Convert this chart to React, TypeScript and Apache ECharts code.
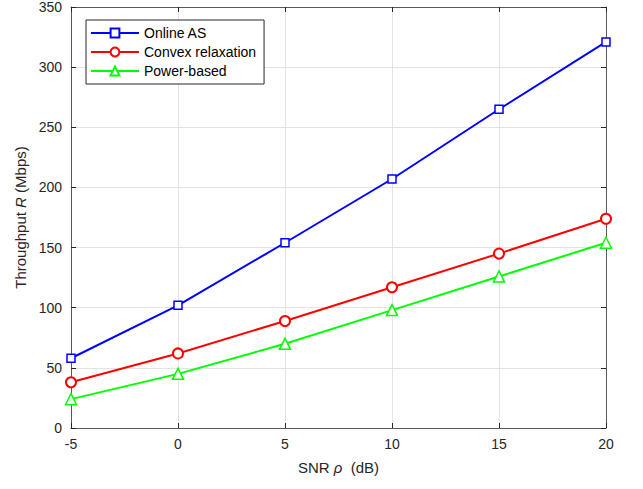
import React, { useEffect, useRef } from "react";
import * as echarts from "echarts";

const snr = [-5, 0, 5, 10, 15, 20];
const onlineAS = [58, 102, 154, 207, 265, 321];
const convexRelax = [38, 62, 89, 117, 145, 174];
const powerBased = [24, 45, 70, 98, 126, 154];
const xTicks = [-5, 0, 5, 10, 15, 20];
const yTicks = [0, 50, 100, 150, 200, 250, 300, 350];

const FONT = "'Liberation Sans', Arial, Helvetica, sans-serif";

export default function App() {
  const ref = useRef<HTMLDivElement>(null);
  useEffect(() => {
    if (!ref.current) return;
    const chart = echarts.init(ref.current, undefined, { renderer: "svg" });
    const pair = (ys: number[]) => snr.map((x, i) => [x, ys[i]]);
    const axisCommon = {
      type: "value" as const,
      axisLine: { show: true, onZero: false, lineStyle: { color: "#5a5a5a", width: 1 } },
      axisTick: { show: true, inside: true, length: 5, lineStyle: { color: "#262626" } },
    };
    const rich = {
      n: { fontFamily: FONT, fontSize: 15, color: "#262626" },
      i: { fontFamily: FONT, fontSize: 15, color: "#262626", fontStyle: "italic" as const },
    };
    chart.setOption({
      animation: false,
      backgroundColor: "#ffffff",
      textStyle: { fontFamily: FONT },
      grid: { left: 71, right: 37, top: 5, bottom: 61, containLabel: false },
      legend: {
        show: true,
        left: 86,
        top: 20,
        orient: "vertical",
        backgroundColor: "#ffffff",
        borderColor: "#262626",
        borderWidth: 1,
        borderRadius: 0,
        padding: [5, 8, 5, 4],
        itemGap: 3,
        itemWidth: 48,
        itemHeight: 11,
        textStyle: { fontFamily: FONT, fontSize: 14, color: "#000", lineHeight: 16 },
        data: ["Online AS", "Convex relaxation", "Power-based"],
      },
      xAxis: [
        {
          ...axisCommon,
          min: xTicks[0],
          max: xTicks[xTicks.length - 1],
          interval: 5,
          position: "bottom",
          axisLabel: { color: "#262626", fontSize: 14, margin: 9, fontFamily: FONT },
          splitLine: { show: true, lineStyle: { color: "#e3e3e3", width: 1 } },
          name: "{n|SNR }{i|ρ}{n|  (dB)}",
          nameLocation: "middle",
          nameGap: 32,
          nameTextStyle: { rich },
        },
        {
          ...axisCommon,
          min: xTicks[0],
          max: xTicks[xTicks.length - 1],
          interval: 5,
          position: "top",
          axisLabel: { show: false },
          splitLine: { show: false },
        },
      ],
      yAxis: [
        {
          ...axisCommon,
          min: yTicks[0],
          max: yTicks[yTicks.length - 1],
          interval: 50,
          position: "left",
          axisLabel: { color: "#262626", fontSize: 14, margin: 9, fontFamily: FONT },
          splitLine: { show: true, lineStyle: { color: "#e3e3e3", width: 1 } },
          name: "{n|Throughput }{i|R}{n| (Mbps)}",
          nameLocation: "middle",
          nameGap: 42,
          nameRotate: 90,
          nameTextStyle: { rich },
        },
        {
          ...axisCommon,
          min: yTicks[0],
          max: yTicks[yTicks.length - 1],
          interval: 50,
          position: "right",
          axisLabel: { show: false },
          splitLine: { show: false },
        },
      ],
      series: [
        {
          name: "Online AS",
          type: "line",
          data: pair(onlineAS),
          symbol: "rect",
          symbolSize: 8,
          showAllSymbol: true,
          itemStyle: { color: "#ffffff", borderColor: "#0000ff", borderWidth: 1.5 },
          lineStyle: { color: "#0000ff", width: 2 },
          color: "#0000ff",
          z: 3,
        },
        {
          name: "Convex relaxation",
          type: "line",
          data: pair(convexRelax),
          symbol: "emptyCircle",
          symbolSize: 10,
          showAllSymbol: true,
          itemStyle: { color: "#ff0000", borderColor: "#ff0000", borderWidth: 1.5 },
          lineStyle: { color: "#ff0000", width: 2 },
          color: "#ff0000",
          z: 3,
        },
        {
          name: "Power-based",
          type: "line",
          data: pair(powerBased),
          symbol: "triangle",
          symbolSize: 11,
          showAllSymbol: true,
          itemStyle: { color: "#ffffff", borderColor: "#00ff00", borderWidth: 1.5 },
          lineStyle: { color: "#00ff00", width: 2 },
          color: "#00ff00",
          z: 3,
        },
      ],
    });
    return () => chart.dispose();
  }, []);
  return <div ref={ref} style={{ width: 643, height: 489, position: "absolute", left: 0, top: 0 }} />;
}
